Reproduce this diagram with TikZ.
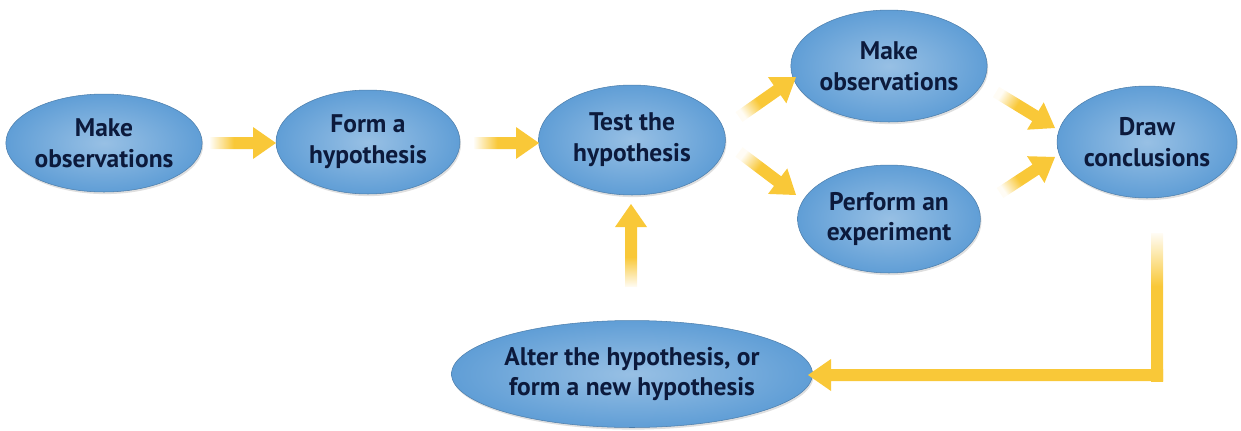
\documentclass[tikz,border=0pt]{standalone}
\usepackage{fontspec}
\setmainfont{PT Sans}
\usetikzlibrary{shapes.geometric,shadows,calc}

\definecolor{ellblue}{RGB}{96,158,214}
\definecolor{txtnavy}{RGB}{12,26,60}
\definecolor{gold}{RGB}{249,200,56}

% tail of the yellow arrows fades out
\pgfdeclarehorizontalshading{fadeh}{100bp}{color(0bp)=(gold!5); color(25bp)=(gold!5); color(43bp)=(gold); color(100bp)=(gold)}

% fat arrow from #2 (tail) to #3 (tip)
\newcommand{\fatarrow}[3][]{%
  \coordinate (hb) at ($(#3)!0.46cm!(#2)$);
  \path[#1] ($(#2)!0.12cm!90:(#3)$) -- ($(hb)!0.12cm!-90:(#2)$) -- ($(hb)!0.32cm!-90:(#2)$) -- (#3)
    -- ($(hb)!0.32cm!90:(#2)$) -- ($(hb)!0.12cm!90:(#2)$) -- ($(#2)!0.12cm!-90:(#3)$) -- cycle;}

\begin{document}
\begin{tikzpicture}[x=0.02cm, y=-0.02cm,
    stage/.style={ellipse, inner sep=0pt, align=center, text=txtnavy,
      font=\bfseries\fontsize{14.5}{17.5}\selectfont,
      inner color=ellblue!65!white, outer color=ellblue, draw=ellblue!80!black, line width=0.3pt,
      drop shadow={shadow xshift=0.6pt, shadow yshift=-1.2pt, opacity=0.25}}]
  \useasboundingbox (0,0) rectangle (1241,430);

  % stages
  \node[stage, minimum width=3.84cm, minimum height=1.96cm] (obs) at (104,143) {Make\\observations};
  \node[stage, minimum width=3.68cm, minimum height=2.08cm] (hyp) at (368,142) {Form a\\hypothesis};
  \node[stage, minimum width=3.74cm, minimum height=2.2cm] (test) at (632,140) {Test the\\hypothesis};
  \node[stage, minimum width=3.72cm, minimum height=2.24cm] (obs2) at (889,66) {Make\\observations};
  \node[stage, minimum width=3.66cm, minimum height=2.16cm] (expt) at (889,219) {Perform an\\experiment};
  \node[stage, minimum width=3.6cm, minimum height=2.24cm] (concl) at (1147,142) {Draw\\conclusions};
  \node[stage, minimum width=6.48cm, minimum height=2.14cm] (alter) at (632,374) {Alter the hypothesis, or\\form a new hypothesis};

  % arrow ends
  \coordinate (a1s) at (210,143);  \coordinate (a1e) at (276,143);
  \coordinate (a2s) at (474,143);  \coordinate (a2e) at (539,143);
  \coordinate (a3s) at (739,117);  \coordinate (a3e) at (796,77);
  \coordinate (a4s) at (739,152);  \coordinate (a4e) at (796,195);
  \coordinate (a5s) at (996,92);   \coordinate (a5e) at (1055,128);
  \coordinate (a6s) at (1000,193); \coordinate (a6e) at (1055,157);
  \coordinate (a7s) at (631,287);  \coordinate (a7e) at (631,204);
  \coordinate (l1) at (1157,233);  \coordinate (l2) at (1163,375);  \coordinate (l3) at (808,375);

  \foreach \s/\e/\a in {a1s/a1e/0, a2s/a2e/0, a3s/a3e/36, a4s/a4e/-38, a5s/a5e/-33, a6s/a6e/35, a7s/a7e/90}
    \fatarrow[shade, shading=fadeh, shading angle=\a]{\s}{\e};

  % back to the start
  \shade[shading=fadeh, shading angle=-90] ($(l1)+(-6,0)$) rectangle ($(l2)+(0,6)$);
  \fatarrow[fill=gold]{l2}{l3};
\end{tikzpicture}
\end{document}
